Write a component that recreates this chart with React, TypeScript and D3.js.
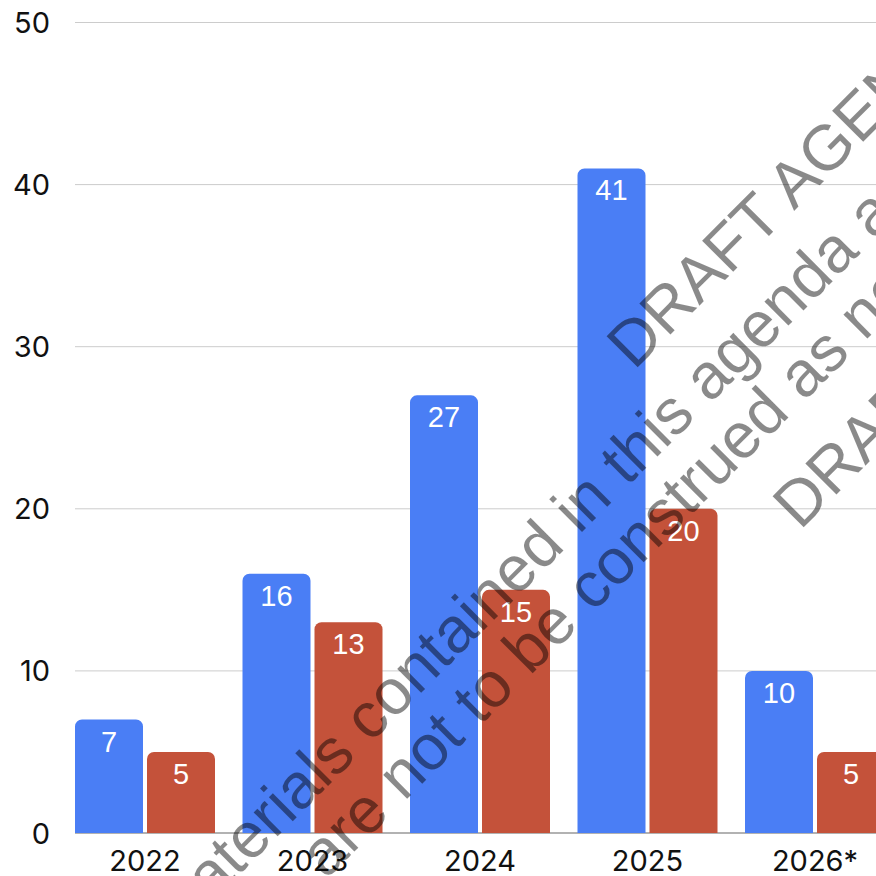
import * as d3 from 'd3';

const years = ['2022', '2023', '2024', '2025', '2026*'];
const seriesKeys = ['blue', 'red'];
const blueValues = [7, 16, 27, 41, 10];
const redValues = [5, 13, 15, 20, 5];
const yTicks = [0, 10, 20, 30, 40, 50];
const watermarkLines = [
  'DRAFT AGENDA',
  'materials contained in this agenda are',
  'are not to be construed as necessarily final',
  'DRAFT AGENDA',
];
// baseline start of each watermark line (screen coords, text rotated -45deg)
const watermarkStarts: [number, number][] = [
  [634, 371],
  [174, 940],
  [326, 880],
  [800, 531],
];

const W = 876;
const H = 876;
const colors: Record<string, string> = { blue: '#4a7ef5', red: '#c4523a' };

function topRoundedBar(x: number, y: number, w: number, h: number, r: number) {
  const rr = Math.min(r, h, w / 2);
  const p = d3.path();
  p.moveTo(x, y + h);
  p.lineTo(x, y + rr);
  p.arcTo(x, y, x + rr, y, rr);
  p.lineTo(x + w - rr, y);
  p.arcTo(x + w, y, x + w, y + rr, rr);
  p.lineTo(x + w, y + h);
  p.closePath();
  return p.toString();
}

export default function App() {
  const y = d3.scaleLinear().domain([0, 50]).range([833, 22.5]);
  const x = d3
    .scaleBand<string>()
    .domain(years)
    .range([61.25, 898.75])
    .paddingInner(27.5 / 167.5)
    .paddingOuter(13.75 / 167.5);
  const inner = d3
    .scaleBand<string>()
    .domain(seriesKeys)
    .range([0, x.bandwidth()])
    .paddingInner(4 / 72);

  const rows = years.map((yr, i) => ({ yr, blue: blueValues[i], red: redValues[i] }));
  const tickFont = 'Inter, "Noto Sans", sans-serif';

  return (
    <svg
      width={W}
      height={H}
      style={{ position: 'fixed', left: 0, top: 0, background: '#fff' }}
    >
      {/* grid */}
      {yTicks.map((t) => (
        <line
          key={t}
          x1={75}
          x2={W}
          y1={y(t)}
          y2={y(t)}
          stroke={t === 0 ? '#999' : '#ccc'}
          strokeWidth={t === 0 ? 1.6 : 1}
        />
      ))}
      {yTicks.map((t) => (
        <text
          key={'l' + t}
          x={50}
          y={y(t) + 10.5}
          textAnchor="end"
          fontFamily={tickFont}
          fontSize={29}
          fill="#111"
        >
          {t}
        </text>
      ))}

      {/* bars */}
      {rows.map((d) => (
        <g key={d.yr} transform={`translate(${x(d.yr)},0)`}>
          {seriesKeys.map((k) => {
            const v = (d as any)[k] as number;
            const bx = inner(k)!;
            const top = y(v);
            return (
              <g key={k}>
                <path
                  d={topRoundedBar(bx, top, inner.bandwidth(), y(0) - top, 7)}
                  fill={colors[k]}
                />
                <text
                  x={bx + inner.bandwidth() / 2}
                  y={top + 32}
                  textAnchor="middle"
                  fontFamily='"Liberation Sans", Arial, sans-serif'
                  fontSize={29}
                  fill="#fff"
                >
                  {v}
                </text>
              </g>
            );
          })}
          <text
            x={x.bandwidth() / 2}
            y={870.5}
            textAnchor="middle"
            fontFamily={tickFont}
            fontSize={29}
            fill="#111"
          >
            {d.yr}
          </text>
        </g>
      ))}

      {/* watermark */}
      {watermarkLines.map((line, i) => (
        <text
          key={'w' + i}
          transform={`translate(${watermarkStarts[i][0]},${watermarkStarts[i][1]}) rotate(-45)`}
          fontFamily='"Liberation Sans", Arial, sans-serif'
          fontSize={64}
          fill="#000"
          fillOpacity={0.46}
        >
          {line}
        </text>
      ))}
    </svg>
  );
}
